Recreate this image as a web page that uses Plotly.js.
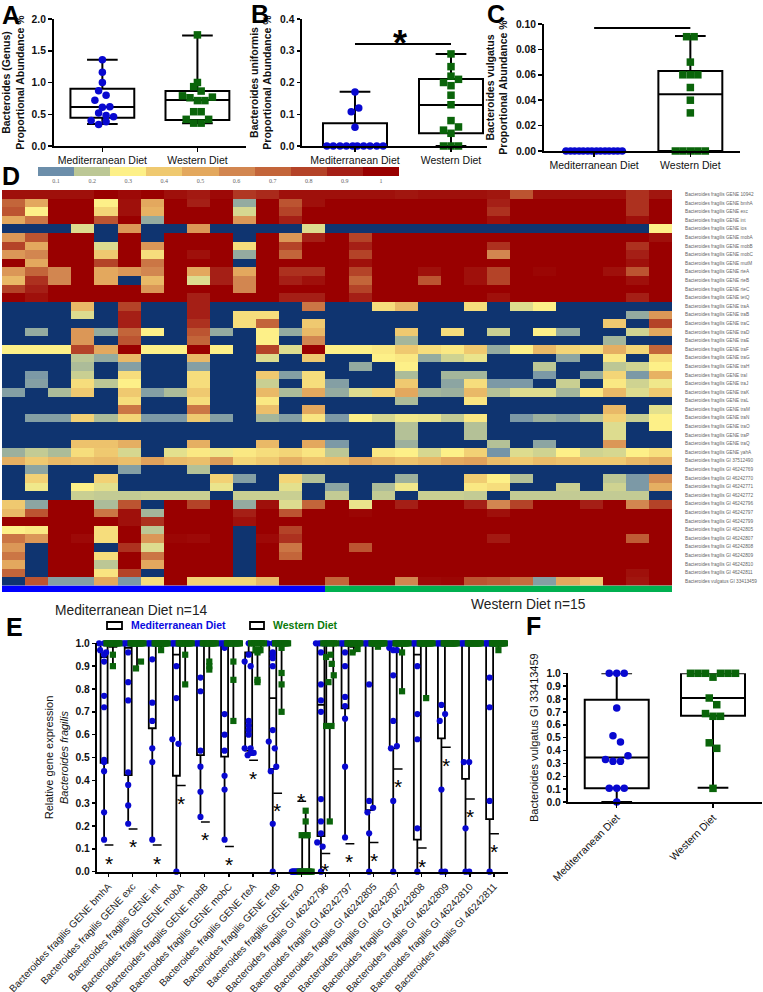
<!DOCTYPE html>
<html><head><meta charset="utf-8">
<script src="https://cdn.plot.ly/plotly-3.0.1.min.js"></script>
<style>html,body{margin:0;padding:0;background:#fff}#chart{width:763px;height:992px}</style>
</head><body><div id="chart"></div>
<script>
// ---------- data ----------
const groupNames = ["Mediterranean Diet", "Western Diet"];
const medN = 14, westN = 15;

// Panel A
const aMed = [1.36,1.16,1.0,0.87,0.80,0.72,0.62,0.61,0.52,0.48,0.46,0.40,0.38,0.34];
const aMedSlots = [0,0,0,-1,1,-2,2,0,-1,1,3,-3,1,-1];
const aWest = [1.75,1.0,0.935,0.865,0.79,0.76,0.77,0.715,0.715,0.54,0.54,0.42,0.42,0.36,0.36];
const aWestSlots = [0,0,-1,1,-4,-2,4,0,2,-1,1,-3,3,-1,1];
const aBox = {q1:[0.446,0.41], med:[0.614,0.725], q3:[0.903,0.866], low:[0.345,0.36], high:[1.36,1.74]};
// Panel B
const bMed = [0.17,0.108,0.12,0.059,0,0,0,0,0,0,0,0,0,0];
const bMedSlots = [0,-1,1,0,-7.5,-5.8,-4,-2.3,-0.6,0.6,2.3,4,5.8,7.5];
const bWest = [0.29,0.25,0.22,0.20,0.21,0.19,0.16,0.13,0.08,0.05,0.06,0.04,0,0,0];
const bWestSlots = [0,0,0,-2,2,0,0,0,0,-2,2,0,-2,0,2];
const bBox = {q1:[0,0.04], med:[0,0.129], q3:[0.0714,0.211], low:[0,0], high:[0.171,0.29]};
const bSigY = 0.321;
// Panel C
const cMed = [0,0,0,0,0,0,0,0,0,0,0,0,0,0];
const cMedSlots = [-7.5,-6.3,-5.2,-4,-2.9,-1.7,-0.6,0.6,1.7,2.9,4,5.2,6.3,7.5];
const cWest = [0.09,0.09,0.07,0.06,0.06,0.06,0.05,0.04,0.03,0,0,0,0,0];
const cWestSlots = [-1,1,0,-2,0,2,0,0,0,-4,-2,0,2,4];
const cBox = {q1:[0,0], med:[0,0.0446], q3:[0,0.063], low:[0,0], high:[0,0.0905]};
const cSigY = 0.0969;

// Panel D: relative expression in tenths, genes x 29 subjects
const colorbarLevels = [1,2,3,4,5,6,7,8,9,10];
const colorbarLabels = ["0.1","0.2","0.3","0.4","0.5","0.6","0.7","0.8","0.9","1"];
const heatGenes = ["Bacteroides fragilis GENE 10942","Bacteroides fragilis GENE bmhA","Bacteroides fragilis GENE exc","Bacteroides fragilis GENE int","Bacteroides fragilis GENE ios","Bacteroides fragilis GENE mobA","Bacteroides fragilis GENE mobB","Bacteroides fragilis GENE mobC","Bacteroides fragilis GENE mutM","Bacteroides fragilis GENE rteA","Bacteroides fragilis GENE rteB","Bacteroides fragilis GENE rteC","Bacteroides fragilis GENE tetQ","Bacteroides fragilis GENE traA","Bacteroides fragilis GENE traB","Bacteroides fragilis GENE traC","Bacteroides fragilis GENE traD","Bacteroides fragilis GENE traE","Bacteroides fragilis GENE traF","Bacteroides fragilis GENE traG","Bacteroides fragilis GENE traH","Bacteroides fragilis GENE traI","Bacteroides fragilis GENE traJ","Bacteroides fragilis GENE traK","Bacteroides fragilis GENE traL","Bacteroides fragilis GENE traM","Bacteroides fragilis GENE traN","Bacteroides fragilis GENE traO","Bacteroides fragilis GENE traP","Bacteroides fragilis GENE traQ","Bacteroides fragilis GENE yahA","Bacteroides fragilis GI 37512490","Bacteroides fragilis GI 46242769","Bacteroides fragilis GI 46242770","Bacteroides fragilis GI 46242771","Bacteroides fragilis GI 46242772","Bacteroides fragilis GI 46242796","Bacteroides fragilis GI 46242797","Bacteroides fragilis GI 46242799","Bacteroides fragilis GI 46242805","Bacteroides fragilis GI 46242807","Bacteroides fragilis GI 46242808","Bacteroides fragilis GI 46242809","Bacteroides fragilis GI 46242810","Bacteroides fragilis GI 46242811","Bacteroides vulgatus GI 33413459"];
const heatZ = [
[9.5,9.5,9.5,9.5,10,9.7,10,9.5,9.2,9.7,8.3,8.7,9.5,9.5,9.5,9.5,9.5,9.3,9.5,9.5,9.5,9.3,7.5,9.5,9.5,9.5,9.5,8.5,9.3],
[7,5,10,10,3,9.5,5,10,9,10,1.5,10,7.5,9.5,10,10,10,10,10,10,10,9,10,10,10,10,10,8.5,10],
[7.5,3,10,10,3.7,9.5,4.7,10,10,10,2.4,10,8,10,10,10,10,10,10,10,10,8.5,10,10,10,10,10,8.5,10],
[5,6.5,10,10,7.5,10,1.5,10,10,10,5.5,10,9,10,10,10,10,10,10,10,10,9.5,10,10,10,10,10,9.5,10],
[0,0,0,2.5,0,5.5,0,0,5.5,0,0,0,0,2.5,0,0,0,0,0,0,0,0,0,0,0,0,0,0,3],
[5.5,7.5,10,10,0,10,0,10,10,10,0,10,5.5,9,10,8,10,10,10,10,10,10,10,10,10,10,10,10,9.5],
[8,5,10,10,2.5,10,5.5,10,10,10,3.5,10,8,10,10,9,10,10,10,10,10,8.5,10,10,10,10,10,8.5,10],
[5.5,6,10,10,4,10,3.5,10,9.5,10,1.5,10,7,10,10,8,10,10,10,10,10,6,10,10,10,10,10,9,10],
[10,5,10,10,8,10,6.5,10,10,10,0,10,10,10,10,9.5,10,10,10,10,10,10,10,10,10,10,10,9.5,10],
[5.5,7,6,10,5,5.5,6,10,5,9,5,10,8.5,8.5,10,8,10,10,9.5,10,9.5,8,10,9.8,10,10,9.5,7.5,10],
[4.5,8.5,6,10,5,0,4.5,10,2.5,9,6,10,9,9.5,10,7,10,10,7.5,10,9.5,8,10,10,10,10,10,9.5,10],
[8,9,10,10,10,10,5.5,10,10,10,6,10,10,10,10,8,10,10,10,10,10,10,10,10,10,10,10,10,10],
[10,9.5,10,10,10,10,10,10,9,10,10,10,9,9,10,9,10,10,10,10,10,9.5,10,10,10,10,10,9,10],
[0,0,0,4.5,0,8,0,0,9,0,0,0,0,6.5,0,0,3.5,4.5,0,0,3.5,0,2.5,3,0,0,0,0,0],
[0,0,0,2.5,0,9,0,0,9,0,3.5,3.5,0,0,0,0,0,0,0,0,0,0,0,0,0,0,0,1.5,5.5],
[0,0,0,0,0,9,0,0,8.5,0,3.5,7,0,4,0,0,0,0,0,0,0,0,0,0,0,0,4,0,8],
[0,1.5,0,5.5,1.5,7,3,0,7.5,1.5,0,3,1.5,4.5,0,0,0,4,0,3.5,0,2.2,0,3,1.5,0,0,2.3,5],
[0,0,0,5.5,0,7.5,0,0,7,0,0,3,0,6,0,0,0,1.7,0,0,0,0,0,0,0,0,1.7,0,0],
[3,3,3,8,5,10,3,3,10,3,0,8,2.5,10,3,3,3.2,4,3.5,3.2,4,1.5,3,4.5,3.7,3.5,4.8,3.7,7],
[0,0,0,2,1.5,4.5,0,0,4.5,0,0,2.5,0,4,0,0,3,3.2,1.5,2.3,2.7,0,0,0,1.4,0,3.2,0,3.5],
[0,0,0,1.8,0,1.3,0,0,1.3,0,0,0,0,0,0,1.5,0,3,0,0,0,0,0,2,0,0,2,2.3,3],
[0,1.2,0,2.2,0,3.5,0,0,3.5,0,0,4,1.3,3.5,0,0,0,1.8,0,1.7,1.7,0,0,1.2,0,1.5,3.7,1.2,4.7],
[0,1.3,0,3.5,2,3,0,0,3.5,0,0,2.2,0,3.5,1.3,0,0,4,0,1.4,3.5,1.2,1.2,0,2.2,0,3.2,2.3,2.8],
[1.3,0,1.8,4,0,4,1.3,1.8,4,0,0,4.5,1.8,5,1.5,2.5,3.7,5,1.7,1.6,4.5,1.9,2.5,2.5,1.7,3.2,4.5,2.5,4],
[0,0,0,0,0,3.5,0,0,3.5,0,0,3.2,0,0,0,0,0,1.8,0,0,3.3,0,0,0,0,0,0,0,0],
[0,0,0,0,0,6.5,0,0,6.5,0,0,4.3,0,5,0,0,0,0,0,0,0,0,0,0,0,0,4.5,0,2.6],
[0,1.3,1.3,3.8,1.8,3.7,1.2,1.2,4,1.3,0,1.7,1.3,3.3,1.2,3,2.4,2.8,2.7,2.1,3.2,0,1.2,1.6,1.4,2,3.8,2.2,3],
[0,0,0,0,0,0,0,0,0,0,0,0,0,0,0,0,0,1.9,0,0,1.9,0,0,0,0,0,2.5,0,3],
[0,0,0,0,0,0,0,0,0,0,0,0,0,0,0,0,0,1.9,0,0,1.9,0,0,0,0,0,2.5,0,0],
[0,0,0,4.2,4.2,4.8,0,0,4.8,0,0,4.5,0,5,1.2,0,0,1.6,0,0,0,1.9,0,1.4,0,0,5.5,0,0],
[1.6,2.1,1.8,3.5,4,2.4,0,2.6,3.2,2.8,3.2,3.5,3.7,3.3,2,0,3.2,3,2.4,3,3.8,1.1,2.5,2.3,3,2.3,2.4,3,3.4],
[4.8,4,4.5,4.3,4.5,4.3,5.2,4.5,4.3,5.4,3.7,4,4.8,4.2,4.3,5,4.6,4.2,4.5,5,5.2,4.4,4,4.4,4.2,4,4,4.5,4.8],
[0,1.4,0,0,0,1.3,0,0,1.9,0,0,0,0,0,0,0,0,0,0,0,0,0,0,0,0,0,0,0,0],
[0,3.8,0,0,3.8,0,0,0,0,3.8,1.3,0,3.7,1.9,0,0,0,1.6,0,0,3.9,3,1.9,0,0,0,2,1.2,5.8],
[0,2.8,0,3,2.6,0,0,0,0,2.7,0,0,2.6,0,1.4,0,1.8,2.8,0,0,3.2,3.5,0,0,2.2,0,2.3,1.2,4.8],
[0,0,0,2.2,2.1,2.1,2.2,2.2,2.2,0,2.2,2.2,2.2,0,2.1,0,2.1,0,2.2,2.2,2.1,0,2.1,2.1,2.1,2.1,2.1,2.1,0],
[4,1.4,10,10,1.8,7.5,0,10,8,10,1.5,9.5,2.5,7,10,2.7,10,9,10,10,9,6,8,10,10,9,10,6,8],
[4.5,7.5,10,10,6.5,9.5,1.7,10,10,10,9,10,7.5,10,10,9.8,10,10,10,10,10,9.5,10,10,10,10,10,10,10],
[10,10,10,10,10,9.5,8.5,10,10,10,9.5,10,10,10,10,10,10,10,10,10,10,10,10,10,10,10,10,10,10],
[3,3.2,10,10,3.5,10,2,10,10,10,0,10,8,10,10,10,10,10,10,10,10,10,10,10,10,10,10,10,10],
[6.5,5.5,10,9.7,3.5,10,5.5,9.8,9.7,10,0,9.7,8.5,10,10,10,10,10,10,10,10,9.2,10,10,10,10,10,7.3,10],
[5.5,0,10,10,0,8.5,2.5,10,10,10,0,10,6.5,10,10,7.5,10,10,10,10,10,10,10,10,10,10,10,10,10],
[6.5,0,10,10,3.5,10,6.5,10,10,10,0,10,7,10,10,10,10,10,10,10,10,10,10,10,10,10,10,10,10],
[5,0,10,10,2,10,5,10,10,10,0,10,10,10,10,10,10,10,10,10,10,10,10,10,10,10,10,10,10],
[7,0,10,10,3.3,8,0,10,10,10,0,10,10,10,10,10,10,10,10,10,10,10,10,10,10,10,10,9.5,10],
[0,7.5,1.3,1.3,5,1.2,3.5,10,3.8,3.7,3.7,4.5,10,10,7,10,10,6,9.7,9.8,7.5,7.3,6.8,1.3,5,4,10,9.3,10]
];

// Panel E
const eGenes = ["Bacteroides fragilis GENE bmhA","Bacteroides fragilis GENE exc","Bacteroides fragilis GENE int","Bacteroides fragilis GENE mobA","Bacteroides fragilis GENE mobB","Bacteroides fragilis GENE mobC","Bacteroides fragilis GENE rteA","Bacteroides fragilis GENE rteB","Bacteroides fragilis GENE traO","Bacteroides fragilis GI 46242796","Bacteroides fragilis GI 46242797","Bacteroides fragilis GI 46242805","Bacteroides fragilis GI 46242807","Bacteroides fragilis GI 46242808","Bacteroides fragilis GI 46242809","Bacteroides fragilis GI 46242810","Bacteroides fragilis GI 46242811"];
const eBlueOnes = [3,7,8,9,8,7,1,3,0,4,7,8,5,9,8,9,10];
const eBlueVals = [
[.97,.96,.95,.92,.77,.72,.49,.48,.44,.26,.14],
[.96,.83,.75,.435,.38,.29,.21],
[.93,.74,.66,.54,.48,.14],
[.9,.76,.58,.56,0],
[.85,.79,.53,.46,.35,.24],
[.98,.69,.6,.53,.42,.36,.14],
[.95,.92,.9,.66,.64,.62,.6,.54,.54,.52,.52,.51],
[.96,.95,.935,.9,.62,.57,.54,.46,.44,.21,0],
[0,0,0,0,0,0,0,0,0,0,0,0,0,0],
[.96,.82,.75,.7,.318,.22,.168,.128,.11,0],
[.96,.9,.765,.725,.67,.46,.15],
[.82,.31,.28,.26,.168,0],
[.98,.97,.97,.86,.66,.54,.55,.31,0],
[.9,.69,.58,.19,0],
[.73,.69,.66,.36,0,0],
[.48,.48,.19,0,0],
[.85,.72,.31,0]];
const eBlueOffs = [
[-4,2,0,0,0,0,0,0,0,0,0],
[0,0,0,0,0,0,0],
[0,0,0,0,0,0],
[0,0,-4,2,0],
[0,0,0,0,0,0],
[0,0,0,0,0,0,0],
[0,-4,2,0,0,0,0,-4,2,2,5,-1],
[0,0,0,0,0,-4,2,3.5,-2,0,0],
[-5,-4.2,-3.5,-2.7,-1.9,-1.2,-0.4,0.4,1.2,1.9,2.7,3.5,4.2,5],
[0,0,0,0,0,0,0,-3.7,1.7,0],
[0,0,0,0,0,0,0],
[0,0,4,-1.7,0,0],
[-4,0,3.7,0,0,-2.3,3.7,0,0],
[0,0,0,0,0],
[0,3.7,-1.7,0,0,3.7],
[-1.7,3.7,0,0,3.7],
[0,0,0,0]];
const eBlueBox = {
 q1:[.477,.423,.628,.42,.51,.504,.53,.45,0,.156,.715,.27,.54,.14,.584,.406,.23],
 med:[.94,.98,1,.95,1,.99,.64,.76,0,.73,.99,1,1,.95,1,1,1],
 q3:[1,1,1,1,1,1,.96,1,0,1,1,1,1,1,1,1,1],
 low:[.14,.21,.14,0,.24,.14,.51,0,0,0,.15,0,0,0,0,0,0],
 high:[1,1,1,1,1,1,1,1,0,1,1,1,1,1,1,1,1]};
const eGreenOnes = [13,13,14,13,12,12,9,11,0,7,13,14,13,14,15,15,14];
const eGreenVals = [
[.95,.9],[.92,.89],[.97],[.95,.82],[.92,.9,.885],[.92,.84,.66],[.97,.97,.97,.96,.84,.83],[.98,.87,.82,.7],
[.267,.22,.16,.16,.16,0,0,0,0,0,0,0,0,0,0],
[.95,.94,.91,.86,.83,.638,.638,.22],[.975,.96],[.985],[.96,.79],[.76],[],[],[.97]];
const eGreenOffs = [
[0,0],[4,-1],[0],[0,0],[0,0,0],[0,0,0],[-2,3,0,0,0,0],[0,0,0,0],
[0,0,-4,0,2,-6,-4.7,-3.3,-2,-0.7,0.7,2,3.3,4.7,6],
[0.7,-3.7,2,4,-1.3,-3.7,1.7,0],[3.7,-1.3],[0],[0,0],[0],[],[],[0]];
const eGreenBox = {
 q1:[.985,1,.99,1,1,1,.96,1,0,.64,.985,1,1,1,1,1,1],
 med:[1,1,1,1,1,1,1,1,0,1,1,1,1,1,1,1,1],
 q3:[1,1,1,1,1,1,1,1,.16,1,1,1,1,1,1,1,1],
 low:[.9,.89,.97,.82,.885,.66,.83,.7,0,.22,.96,.985,.79,.76,1,1,.97],
 high:[1,1,1,1,1,1,1,1,.267,1,1,1,1,1,1,1,1]};
const eSigBarY = [.117,.187,.117,.377,.218,.11,.488,.343,.308,.08,.122,.128,.45,.104,.545,.318,.166];
const eStarY   = [.054,.127,.054,.317,.158,.048,.428,.285,.33,.022,.064,.068,.392,.042,.485,.26,.108];

// Panel F
const fMed = [1,1,1,0.73,0.515,0.466,0.36,0.33,0.316,0.316,0.106,0.106,0.106,0];
const fMedSlots = [-2,0,2,0,-1,1,3,-3,-1,1,-2,0,2,0];
const fWest = [1,1,1,1,1,1,0.97,0.808,0.756,0.687,0.666,0.666,0.46,0.417,0.106];
const fWestSlots = [-6,-4,-2,2,4,6,0,-1,1,-2,0,2,-1,1,0];
const fBox = {q1:[0.106,0.67], med:[0.345,0.808], q3:[0.795,1], low:[0,0.11], high:[1,1]};
const fSigY = 1.052;

// ---------- styles ----------
const W = 763, H = 992;
const BLUE = "#0808d0", GREEN = "#0a640a", FONT = "'Liberation Sans', Arial, sans-serif";
const heatScale = [[0,"#0f3470"],[0.1,"#6c8eaa"],[0.2,"#bcc795"],[0.3,"#fdf088"],[0.4,"#efc970"],[0.5,"#e3a85e"],[0.6,"#d28650"],[0.7,"#c3653a"],[0.8,"#b44328"],[0.9,"#a51f16"],[1,"#990000"]];
const xDom = (a,b)=>[a/W,b/W];
const yDom = (top,bot)=>[1-bot/H,1-top/H];
const SLOT = 3.75;

function boxTrace(x,s,axX,axY,widthUnits,lw,cap){
  return {type:"box",x:x,q1:s.q1,median:s.med,q3:s.q3,lowerfence:s.low,upperfence:s.high,
    width:widthUnits,whiskerwidth:cap,boxpoints:false,xaxis:axX,yaxis:axY,
    line:{color:"#000",width:lw},fillcolor:"rgba(255,255,255,0)",showlegend:false,hoverinfo:"skip"};
}
function pts(x,y,color,symbol,size,axX,axY){
  return {type:"scatter",mode:"markers",x:x,y:y,xaxis:axX,yaxis:axY,cliponaxis:false,showlegend:false,hoverinfo:"skip",
    marker:{color:color,symbol:symbol,size:size,line:{width:0}}};
}
function withSlots(center,slots,unitPx){ return slots.map(s=>center+s*SLOT/unitPx); }

const traces=[], shapes=[], annos=[];
function panel(axX,axY,med,medS,west,westS,box,unitPx){
  traces.push(boxTrace([0,1],box,axX,axY,64/unitPx,2,0.48));
  traces.push(pts(withSlots(0,medS,unitPx),med,BLUE,"circle",7.5,axX,axY));
  traces.push(pts(withSlots(1,westS,unitPx),west,GREEN,"square",7.5,axX,axY));
}
panel("x","y",aMed,aMedSlots,aWest,aWestSlots,aBox,95.3);
panel("x2","y2",bMed,bMedSlots,bWest,bWestSlots,bBox,96);
panel("x3","y3",cMed,cMedSlots,cWest,cWestSlots,cBox,96.3);
panel("x8","y8",fMed,fMedSlots,fWest,fWestSlots,fBox,96.3);

// colour bar, heatmap, group strip
traces.push({type:"heatmap",z:[colorbarLevels],zmin:0,zmax:10,colorscale:heatScale,showscale:false,xaxis:"x4",yaxis:"y4",hoverinfo:"skip"});
traces.push({type:"heatmap",z:heatZ,y:heatGenes,zmin:0,zmax:10,colorscale:heatScale,showscale:false,xaxis:"x5",yaxis:"y5",hoverinfo:"skip"});
const groupStrip=[Array.from({length:medN+westN},(_,i)=>i<medN?0:1)];
traces.push({type:"heatmap",z:groupStrip,zmin:0,zmax:1,colorscale:[[0,"#0000ff"],[1,"#00b050"]],showscale:false,xaxis:"x6",yaxis:"y6",hoverinfo:"skip"});

// panel E
const E_UNIT=24.1, E_SHIFT=0.183;
const eIdx=eGenes.map((_,i)=>i);
traces.push(boxTrace(eIdx.map(i=>i-E_SHIFT),eBlueBox,"x7","y7",7/E_UNIT,1.8,0.5));
traces.push(boxTrace(eIdx.map(i=>i+E_SHIFT),eGreenBox,"x7","y7",7/E_UNIT,1.8,0.5));
function ePoints(ones,vals,offs,shift,band){
  const xs=[],ys=[];
  eIdx.forEach(i=>{
    const c=i+shift, n=ones[i];
    for(let k=0;k<n;k++){ const o=n>1?-band+2*band*k/(n-1):0; xs.push(c+o/E_UNIT); ys.push(1); }
    vals[i].forEach((v,j)=>{ xs.push(c+offs[i][j]/E_UNIT); ys.push(v); });
  });
  return [xs,ys];
}
const bp=ePoints(eBlueOnes,eBlueVals,eBlueOffs,-E_SHIFT,5);
const gp=ePoints(eGreenOnes,eGreenVals,eGreenOffs,E_SHIFT,6.5);
traces.push(pts(bp[0],bp[1],BLUE,"circle",6.2,"x7","y7"));
traces.push(pts(gp[0],gp[1],GREEN,"square",6.2,"x7","y7"));

// significance marks
function sigBar(x0,x1,y,ax,ay,w){ shapes.push({type:"line",xref:ax,yref:ay,x0:x0,x1:x1,y0:y,y1:y,line:{color:"#000",width:w}}); }
function star(x,y,ax,ay,size,bold){
  annos.push({text:bold?"<b>*</b>":"*",x:x,y:y,xref:ax,yref:ay,showarrow:false,xanchor:"center",yanchor:"middle",
    yshift:-size*0.2,font:{family:FONT,size:size,color:"#000"}});
}
sigBar(0,1,bSigY,"x2","y2",2); star(0.47,0.345,"x2","y2",36,true);
sigBar(0,1,cSigY,"x3","y3",2); star(0.47,0.108,"x3","y3",36,true);
sigBar(0,1,fSigY,"x8","y8",2); star(0.5,1.10,"x8","y8",36,true);
eIdx.forEach(i=>{ sigBar(i-E_SHIFT+0.02,i+E_SHIFT+0.02,eSigBarY[i],"x7","y7",1.5); star(i,eStarY[i],"x7","y7",21,false); });

// free text
function label(text,xp,yp,size,color,anchor){
  annos.push({text:text,x:xp/W,y:1-yp/H,xref:"paper",yref:"paper",showarrow:false,xanchor:anchor||"center",yanchor:"middle",
    font:{family:FONT,size:size,color:color||"#000"}});
}
label("<b>A</b>",11,15,25); label("<b>B</b>",260,14,25); label("<b>C</b>",496,14,25);
label("<b>D</b>",11,176,25); label("<b>E</b>",14,627,25); label("<b>F</b>",533,626,25);
label("Mediterranean Diet n=14",131,610,13.8,"#222");
label("Western Diet n=15",528,604,13.8,"#222");
label("<b>Mediterranean Diet</b>",129,625,10.5,"#0a0ae0","left");
label("<b>Western Diet</b>",271,625,10.5,"#0a7a0a","left");
[[107,122],[250,264]].forEach(s=>shapes.push({type:"rect",xref:"paper",yref:"paper",x0:s[0]/W,x1:s[1]/W,y0:1-622/H,y1:1-629/H,line:{color:"#000",width:1.8},fillcolor:"#fff"}));

// ---------- axes ----------
const tickF={family:FONT,size:10.3,color:"#000"};
const boldTick={family:FONT,size:10.3,color:"#111",weight:"bold"};
function catAxis(dom,range,domainAnchor,angle,size){
  return {domain:dom,range:range,anchor:domainAnchor,tickvals:[0,1],ticktext:groupNames,showline:true,linecolor:"#000",linewidth:2,
    ticks:"outside",ticklen:3.5,tickwidth:1.5,tickcolor:"#000",showgrid:false,zeroline:false,tickangle:angle||0,tickfont:{family:FONT,size:size||10.5,color:"#111"}};
}
function valAxis(dom,range,dtick,fmt,anchor,title,standoff,size){
  return {domain:dom,range:range,anchor:anchor,dtick:dtick,tick0:0,tickformat:fmt,showline:true,linecolor:"#000",linewidth:2,
    ticks:"outside",ticklen:3.5,tickwidth:1.5,tickcolor:"#000",showgrid:false,zeroline:false,tickfont:boldTick,
    title:{text:title,standoff:standoff,font:{family:FONT,size:size||10.5,color:"#111"}}};
}
const layout={
  width:W,height:H,autosize:false,margin:{l:0,r:0,t:0,b:0},paper_bgcolor:"#fff",plot_bgcolor:"rgba(0,0,0,0)",
  showlegend:false,boxmode:"overlay",shapes:shapes,annotations:annos,font:{family:FONT},
  xaxis:catAxis(xDom(53.5,246),[-0.514,1.511],"y"),
  yaxis:valAxis(yDom(19,146),[0,2],0.5,".1f","x","<b>Bacteroides (Genus)<br>Proportional Abundance %</b>",6),
  xaxis2:catAxis(xDom(302,487),[-0.552,1.375],"y2"),
  yaxis2:valAxis(yDom(19,146),[0,0.4],0.1,".1f","x2","<b>Bacteroides uniformis<br>Proportional Abundance %</b>",6),
  xaxis3:catAxis(xDom(543.5,740),[-0.526,1.516],"y3"),
  yaxis3:valAxis(yDom(24,151),[0,0.1],0.02,".2f","x3","<b>Bacteroides vulgatus<br>Proportional Abundance %</b>",6),
  xaxis4:{domain:xDom(38,399),anchor:"y4",tickmode:"array",tickvals:colorbarLevels.map((_,i)=>i),ticktext:colorbarLabels,ticks:"",showline:false,showgrid:false,zeroline:false,
    tickfont:{family:"'Liberation Serif', serif",size:6,color:"#666"}},
  yaxis4:{domain:yDom(167,176),anchor:"x4",visible:false},
  xaxis5:{domain:xDom(2,672),anchor:"y5",visible:false},
  yaxis5:{domain:yDom(190,585.5),anchor:"x5",side:"right",autorange:"reversed",type:"category",tickmode:"array",tickvals:heatGenes,ticktext:heatGenes,
    ticks:"",showline:false,showgrid:false,zeroline:false,ticklabelstandoff:12,tickfont:{family:FONT,size:4.7,color:"#666"}},
  xaxis6:{domain:xDom(2,672),anchor:"y6",visible:false},
  yaxis6:{domain:yDom(585.5,592),anchor:"x6",visible:false},
  xaxis7:{domain:xDom(97.3,508),range:[-0.465,16.58],anchor:"y7",tickmode:"array",tickvals:eIdx,ticktext:eGenes,tickangle:-47,showline:true,linecolor:"#000",linewidth:2,
    ticks:"outside",ticklen:3,tickwidth:1.2,tickcolor:"#000",showgrid:false,zeroline:false,tickfont:{family:FONT,size:10,color:"#222"}},
  yaxis7:valAxis(yDom(643.3,871.7),[0,1],0.1,".1f","x7","Relative gene expression<br><i>Bacteroides fragilis</i>",5,11),
  xaxis8:catAxis(xDom(568.3,762),[-0.503,1.509],"y8",-45,10.5),
  yaxis8:valAxis(yDom(673.3,802),[0,1],0.1,".1f","x8","Bacteroides vulgatus GI 33413459",6,11)
};
Plotly.newPlot("chart",traces,layout,{displayModeBar:false,staticPlot:true});
</script></body></html>
